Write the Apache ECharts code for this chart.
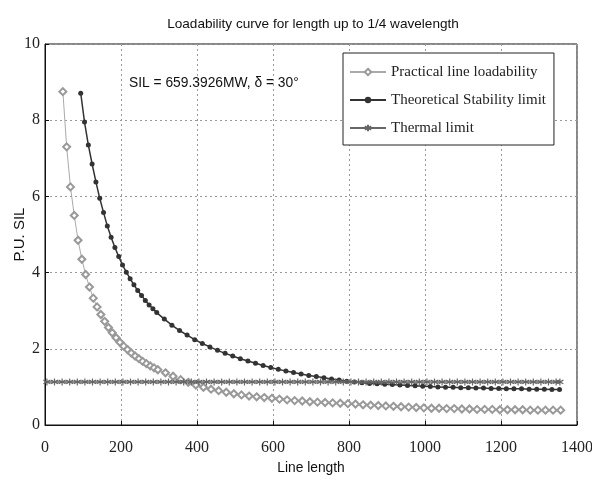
<!DOCTYPE html>
<html>
<head>
<meta charset="utf-8">
<script src="https://cdn.jsdelivr.net/npm/echarts@6/dist/echarts.min.js"></script>
<style>
html,body{margin:0;padding:0;background:#fff;}
#c{width:592px;height:482px;}
</style>
</head>
<body>
<div id="c"></div>
<script>
// ---- data ----
var practicalLength = [47,57,67,77,87,97,107,117,127,137,147,157,167,177,187,197,207,217,227,237,247,257,267,277,287,297,317,337,357,377,397,417,437,457,477,497,517,537,557,577,597,617,637,657,677,697,717,737,757,777,797,817,837,857,877,897,917,937,957,977,997,1017,1037,1057,1077,1097,1117,1137,1157,1177,1197,1217,1237,1257,1277,1297,1317,1337,1357];
var practicalSIL = [8.75,7.3,6.25,5.5,4.85,4.35,3.95,3.62,3.33,3.10,2.90,2.72,2.56,2.42,2.29,2.17,2.07,1.98,1.89,1.81,1.74,1.67,1.61,1.55,1.50,1.45,1.37,1.28,1.19,1.12,1.05,0.99,0.94,0.90,0.86,0.82,0.79,0.76,0.74,0.72,0.70,0.68,0.66,0.64,0.63,0.61,0.60,0.59,0.58,0.57,0.56,0.55,0.53,0.52,0.51,0.50,0.49,0.48,0.47,0.46,0.45,0.44,0.44,0.43,0.43,0.42,0.42,0.41,0.41,0.41,0.40,0.40,0.40,0.40,0.39,0.39,0.39,0.39,0.39];

var theoreticalLength = [94,104,114,124,134,144,154,164,174,184,194,204,214,224,234,244,254,264,274,284,294,314,334,354,374,394,414,434,454,474,494,514,534,554,574,594,614,634,654,674,694,714,734,754,774,794,814,834,854,874,894,914,934,954,974,994,1014,1034,1054,1074,1094,1114,1134,1154,1174,1194,1214,1234,1254,1274,1294,1314,1334,1354];
var theoreticalSIL = [8.71,7.95,7.35,6.85,6.38,5.95,5.58,5.22,4.93,4.66,4.42,4.20,4.01,3.84,3.68,3.53,3.40,3.27,3.15,3.05,2.95,2.78,2.62,2.48,2.36,2.24,2.14,2.05,1.96,1.88,1.81,1.74,1.68,1.62,1.56,1.51,1.46,1.42,1.38,1.34,1.30,1.27,1.24,1.21,1.18,1.15,1.13,1.11,1.09,1.08,1.07,1.06,1.05,1.04,1.03,1.02,1.01,1.00,0.99,0.99,0.98,0.98,0.97,0.97,0.96,0.96,0.95,0.95,0.95,0.94,0.94,0.94,0.93,0.93];

var thermalLength = [5,25,45,65,85,105,125,145,165,185,205,225,245,265,285,305,325,345,365,385,405,425,445,465,485,505,525,545,565,585,605,625,645,665,685,705,725,745,765,785,805,825,845,865,885,905,925,945,965,985,1005,1025,1045,1065,1085,1105,1125,1145,1165,1185,1205,1225,1245,1265,1285,1305,1325,1345,1355];
var thermalSIL = [1.13,1.13,1.13,1.13,1.13,1.13,1.13,1.13,1.13,1.13,1.13,1.13,1.13,1.13,1.13,1.13,1.13,1.13,1.13,1.13,1.13,1.13,1.13,1.13,1.13,1.13,1.13,1.13,1.13,1.13,1.13,1.13,1.13,1.13,1.13,1.13,1.13,1.13,1.13,1.13,1.13,1.13,1.13,1.13,1.13,1.13,1.13,1.13,1.13,1.13,1.13,1.13,1.13,1.13,1.13,1.13,1.13,1.13,1.13,1.13,1.13,1.13,1.13,1.13,1.13,1.13,1.13,1.13,1.13];

var seriesNames = ['Practical line loadability','Theoretical Stability limit','Thermal limit'];
var titleText = 'Loadability curve for length up to 1/4 wavelength';
var annotationText = 'SIL = 659.3926MW, \u03b4 = 30\u00b0';
var xName = 'Line length';
var yName = 'P.U. SIL';

function pairs(xs, ys){ return xs.map(function(x,i){ return [x, ys[i]]; }); }

var starPath = 'path://M0,-5L0,5M-4.5,-2.6L4.5,2.6M-4.5,2.6L4.5,-2.6';
var serif = '"Liberation Serif","Times New Roman",serif';
var sans = '"Liberation Sans Narrow","Arial Narrow","Liberation Sans",Arial,sans-serif';

var chart = echarts.init(document.getElementById('c'), null, {renderer:'canvas'});
chart.setOption({
  animation:false,
  backgroundColor:'#fff',
  title:{text:titleText,left:308,top:12,textAlign:'center',
    textStyle:{fontFamily:sans,fontSize:13.6,fontWeight:'normal',color:'#111'}},
  grid:{left:45,right:15,top:44,bottom:57,containLabel:false,outerBoundsMode:'none',
    show:true,borderColor:'#111',borderWidth:1,backgroundColor:'transparent'},
  legend:{orient:'vertical',left:343,top:53,padding:[10,8,8,6],itemGap:10,itemWidth:36,itemHeight:8,
    backgroundColor:'#fff',borderColor:'#222',borderWidth:1,
    textStyle:{fontFamily:serif,fontSize:15,color:'#222',lineHeight:18},
    data:seriesNames},
  xAxis:{type:'value',min:0,max:1400,interval:200,
    name:xName,nameLocation:'middle',nameGap:36,nameMoveOverlap:false,
    nameTextStyle:{fontFamily:sans,fontSize:13.8,color:'#111'},
    axisLine:{show:true,lineStyle:{color:'#111'}},
    axisTick:{show:true,inside:true,length:4,lineStyle:{color:'#111'}},
    axisLabel:{fontFamily:serif,fontSize:16,color:'#222',margin:15,hideOverlap:false,formatter:function(v){return String(v);}},
    splitLine:{show:true,lineStyle:{color:'#999',type:[2,3],width:1}}},
  yAxis:{type:'value',min:0,max:10,interval:2,
    name:yName,nameLocation:'middle',nameGap:18,nameRotate:90,nameMoveOverlap:false,
    nameTextStyle:{fontFamily:sans,fontSize:15,color:'#111'},
    axisLine:{show:true,lineStyle:{color:'#111'}},
    axisTick:{show:true,inside:true,length:4,lineStyle:{color:'#111'}},
    axisLabel:{fontFamily:serif,fontSize:16,color:'#222',margin:5},
    splitLine:{show:true,lineStyle:{color:'#999',type:[2,3],width:1}}},
  graphic:[{type:'text',left:129,top:76,style:{text:annotationText,
    font:'13.8px '+sans,fill:'#111'}}],
  series:[
    {name:seriesNames[0],type:'line',data:pairs(practicalLength,practicalSIL),
     symbol:'emptyDiamond',symbolSize:7,showSymbol:true,z:2,
     lineStyle:{color:'#aaa',width:1},itemStyle:{color:'#999',borderWidth:1}},
    {name:seriesNames[1],type:'line',data:pairs(theoreticalLength,theoreticalSIL),
     symbol:'circle',symbolSize:5,showSymbol:true,z:3,
     lineStyle:{color:'#333',width:1.5},itemStyle:{color:'#333'}},
    {name:seriesNames[2],type:'line',data:pairs(thermalLength,thermalSIL),
     symbol:starPath,symbolSize:7,showSymbol:true,z:4,
     lineStyle:{color:'#666',width:1.5},itemStyle:{color:'#666',borderColor:'#666',borderWidth:1.2}}
  ]
});
</script>
</body>
</html>
